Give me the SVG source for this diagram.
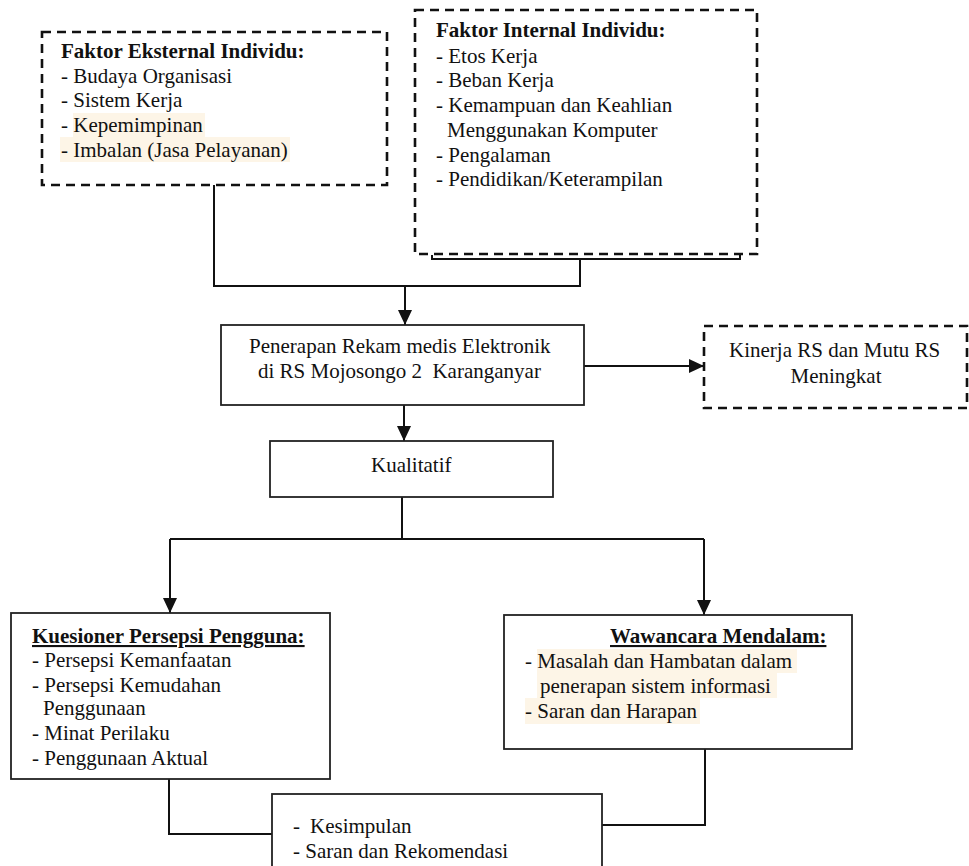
<svg xmlns="http://www.w3.org/2000/svg" width="969" height="866" viewBox="0 0 969 866">
<style>
text{font-family:"Liberation Serif","Times New Roman",serif;font-size:21px;fill:#111}
.b{font-weight:bold}
.u{text-decoration:underline}
.dash{fill:none;stroke:#111;stroke-width:2.6;stroke-dasharray:9 6}
.box{fill:#fff;stroke:#222;stroke-width:1.8}
.hl{fill:#FDF5E7}
.con{fill:none;stroke:#111;stroke-width:2}
</style>
<defs>
<marker id="ah" markerWidth="15" markerHeight="14" refX="15" refY="7" orient="auto" markerUnits="userSpaceOnUse"><path d="M0,0 L15,7 L0,14 z" fill="#111"/></marker>
</defs>
<g id="connectors">
<path class="con" d="M432,255 V259 H740 V255"/>
<path class="con" d="M580,259 V286 H214 V185"/>
<path class="con" d="M405,286 V325" marker-end="url(#ah)"/>
<path class="con" d="M404,405 V441" marker-end="url(#ah)"/>
<path class="con" d="M584,366 H704" marker-end="url(#ah)"/>
<path class="con" d="M402,497 V539 H704"/>
<path class="con" d="M170,539 H402"/>
<path class="con" d="M170,539 V613" marker-end="url(#ah)"/>
<path class="con" d="M704,539 V615" marker-end="url(#ah)"/>
<path class="con" d="M169,779 V834 H272"/>
<path class="con" d="M705,749 V825 H602"/>
</g>
<g id="eksternal">
<rect class="dash" x="42" y="32" width="345" height="153"/>
<rect class="hl" x="73" y="113" width="132" height="24"/>
<rect class="hl" x="60" y="137" width="230" height="25"/>
<text class="b" x="61" y="58">Faktor Eksternal Individu:</text>
<text x="61" y="83">- Budaya Organisasi</text>
<text x="61" y="107">- Sistem Kerja</text>
<text x="61" y="132">- Kepemimpinan</text>
<text x="61" y="157">- Imbalan (Jasa Pelayanan)</text>
</g>
<g id="internal">
<rect class="dash" x="415" y="10" width="342" height="244"/>
<text class="b" x="436" y="37">Faktor Internal Individu:</text>
<text x="436" y="63">- Etos Kerja</text>
<text x="436" y="87">- Beban Kerja</text>
<text x="436" y="112">- Kemampuan dan Keahlian</text>
<text x="447" y="137">Menggunakan Komputer</text>
<text x="436" y="162">- Pengalaman</text>
<text x="436" y="186">- Pendidikan/Keterampilan</text>
</g>
<g id="penerapan">
<rect class="box" x="221" y="325" width="363" height="80"/>
<text x="249" y="353">Penerapan Rekam medis Elektronik</text>
<text x="258" y="378">di RS Mojosongo 2&#160; Karanganyar</text>
</g>
<g id="kinerja">
<rect class="dash" x="704" y="326" width="263" height="82"/>
<text x="729" y="357">Kinerja RS dan Mutu RS</text>
<text x="836" y="383" text-anchor="middle">Meningkat</text>
</g>
<g id="kualitatif">
<rect class="box" x="270" y="441" width="283" height="56"/>
<text x="371" y="472">Kualitatif</text>
</g>
<g id="kuesioner">
<rect class="box" x="11" y="613" width="319" height="166"/>
<text class="b u" x="32" y="643">Kuesioner Persepsi Pengguna:</text>
<text x="32" y="667">- Persepsi Kemanfaatan</text>
<text x="32" y="692">- Persepsi Kemudahan</text>
<text x="43" y="715">Penggunaan</text>
<text x="32" y="740">- Minat Perilaku</text>
<text x="32" y="765">- Penggunaan Aktual</text>
</g>
<g id="wawancara">
<rect class="box" x="504" y="615" width="348" height="134"/>
<rect class="hl" x="537" y="649" width="260" height="24"/>
<rect class="hl" x="537" y="673" width="240" height="25"/>
<rect class="hl" x="525" y="698" width="175" height="26"/>
<text class="b u" x="610" y="643">Wawancara Mendalam:</text>
<text x="525" y="668">- Masalah dan Hambatan dalam</text>
<text x="540" y="693">penerapan sistem informasi</text>
<text x="525" y="718">- Saran dan Harapan</text>
</g>
<g id="kesimpulan">
<rect class="box" x="272" y="794" width="330" height="90"/>
<text x="293" y="833">-<tspan x="310">Kesimpulan</tspan></text>
<text x="293" y="858">- Saran dan Rekomendasi</text>
</g>
</svg>
